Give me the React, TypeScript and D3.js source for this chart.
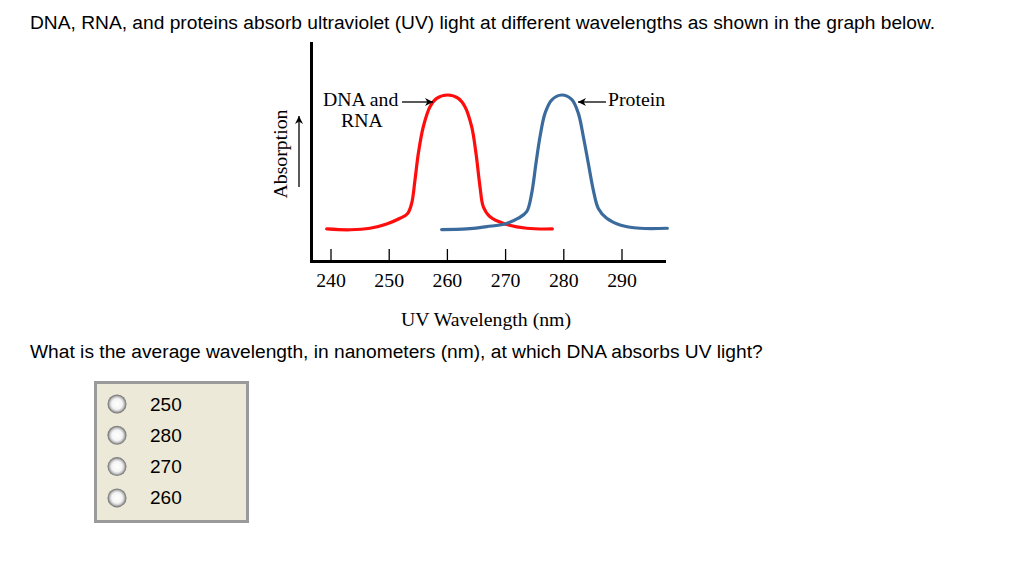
import React from "react";
import * as d3 from "d3";

const dnaWavelengths = [239.26, 243.26, 246.7, 249.56, 251.86, 253.17, 253.86, 254.43, 255.01, 255.86, 257.01, 258.16, 260.05, 261.88, 263.02, 264.17, 264.91, 265.6, 266.17, 267.32, 269.9, 273.62, 278.03];
const dnaAbsorption = [0.198, 0.193, 0.202, 0.228, 0.262, 0.291, 0.351, 0.491, 0.651, 0.81, 0.93, 0.98, 1.0, 0.98, 0.93, 0.81, 0.651, 0.451, 0.331, 0.271, 0.228, 0.202, 0.198];

const proteinWavelengths = [259.01, 263.31, 266.75, 269.9, 272.19, 273.62, 274.48, 275.22, 275.91, 276.77, 277.91, 279.63, 281.35, 282.5, 283.36, 284.21, 285.07, 285.93, 287.37, 289.66, 293.09, 297.79];
const proteinAbsorption = [0.194, 0.198, 0.212, 0.228, 0.262, 0.301, 0.411, 0.591, 0.75, 0.89, 0.97, 1.0, 0.974, 0.89, 0.75, 0.591, 0.431, 0.321, 0.262, 0.222, 0.202, 0.202];

const xTicks = [240, 250, 260, 270, 280, 290];
const choices = ["250", "280", "270", "260"];

const titleText = "DNA, RNA, and proteins absorb ultraviolet (UV) light at different wavelengths as shown in the graph below.";
const questionText = "What is the average wavelength, in nanometers (nm), at which DNA absorbs UV light?";

export default function App() {
  const x = d3.scaleLinear().domain([240, 290]).range([331, 622]);
  const y = d3.scaleLinear().domain([0, 1]).range([262, 95]);
  const line = d3
    .line<[number, number]>()
    .x((d) => x(d[0]))
    .y((d) => y(d[1]))
    .curve(d3.curveCatmullRom.alpha(0.5));
  const dna = dnaWavelengths.map((w, i) => [w, dnaAbsorption[i]] as [number, number]);
  const prot = proteinWavelengths.map((w, i) => [w, proteinAbsorption[i]] as [number, number]);
  const serif = "'Liberation Serif', 'Times New Roman', serif";
  const sans = "'Liberation Sans', Arial, sans-serif";
  const sf = 19.8;

  return (
    <svg width={1024} height={571} style={{ position: "absolute", left: 0, top: 0, background: "#fff" }}>
      <defs>
        <marker id="ah" viewBox="0 0 10 10" refX="10" refY="5" markerWidth="11" markerHeight="8" markerUnits="userSpaceOnUse" orient="auto">
          <path d="M0,0 L10,5 L0,10 L3,5 Z" fill="#000" />
        </marker>
        <radialGradient id="rg" cx="50%" cy="50%" r="50%">
          <stop offset="0%" stopColor="#ffffff" />
          <stop offset="55%" stopColor="#f4f4f4" />
          <stop offset="75%" stopColor="#c8c8c8" />
          <stop offset="90%" stopColor="#8a8a8a" />
          <stop offset="100%" stopColor="#6e6e6e" />
        </radialGradient>
      </defs>
      <rect x={0} y={0} width={1024} height={571} fill="#fff" />
      <text x={30} y={29} fontFamily={sans} fontSize={19.2} fill="#000">{titleText}</text>

      {/* axes */}
      <line x1={311.5} y1={42} x2={311.5} y2={263} stroke="#000" strokeWidth={3} />
      <line x1={310} y1={261.5} x2={666} y2={261.5} stroke="#000" strokeWidth={3} />
      {xTicks.map((t) => (
        <g key={t}>
          <line x1={x(t)} y1={249} x2={x(t)} y2={261} stroke="#000" strokeWidth={1.3} />
          <text x={x(t)} y={287} textAnchor="middle" fontFamily={serif} fontSize={sf} fill="#000">{t}</text>
        </g>
      ))}
      <text x={486} y={326} textAnchor="middle" fontFamily={serif} fontSize={sf} fill="#000">UV Wavelength (nm)</text>
      <text transform="translate(287,154) rotate(-90)" textAnchor="middle" fontFamily={serif} fontSize={sf} fill="#000">Absorption</text>
      <line x1={299} y1={187} x2={299} y2={116} stroke="#000" strokeWidth={1.3} markerEnd="url(#ah)" />

      {/* curves */}
      <path d={line(dna) || ""} fill="none" stroke="#ff0d0d" strokeWidth={3.2} strokeLinecap="round" />
      <path d={line(prot) || ""} fill="none" stroke="#3a6b9c" strokeWidth={3.2} strokeLinecap="round" />

      {/* labels */}
      <text x={323} y={106} fontFamily={serif} fontSize={sf} fill="#000">DNA and</text>
      <text x={341} y={127} fontFamily={serif} fontSize={sf} fill="#000">RNA</text>
      <line x1={402} y1={102} x2={433} y2={102} stroke="#000" strokeWidth={1.3} markerEnd="url(#ah)" />
      <text x={608} y={106} fontFamily={serif} fontSize={sf} fill="#000">Protein</text>
      <line x1={606} y1={102} x2={578} y2={102} stroke="#000" strokeWidth={1.3} markerEnd="url(#ah)" />

      <text x={30} y={358} fontFamily={sans} fontSize={19.2} fill="#000">{questionText}</text>

      {/* choice box */}
      <rect x={95.5} y={382.5} width={152} height={139} fill="#ece9d8" stroke="#9a9a9a" strokeWidth={3} />
      {choices.map((c, i) => (
        <g key={c}>
          <circle cx={117} cy={404 + i * 31.3} r={9.5} fill="url(#rg)" />
          <text x={150} y={410.5 + i * 31.3} fontFamily={sans} fontSize={19} fill="#000">{c}</text>
        </g>
      ))}
    </svg>
  );
}
